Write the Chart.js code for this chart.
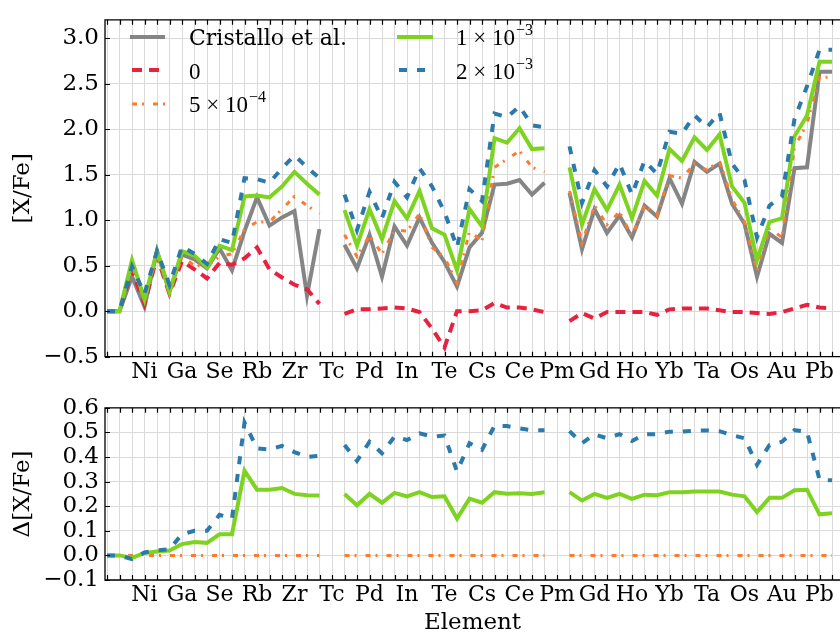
<!DOCTYPE html>
<html>
<head>
<meta charset="utf-8">
<script src="https://cdn.jsdelivr.net/npm/chart.js@4.4.0/dist/chart.umd.min.js"></script>
<style>
    html, body { margin: 0; padding: 0; background: #fff; }
    #wrap { position: relative; width: 840px; height: 637px; overflow: hidden; }
    #topChart { position: absolute; left: 0; top: 0; }
    #botChart { position: absolute; left: 0; top: 388px; }
</style>
</head>
<body>
<div id="wrap">
    <canvas id="topChart" width="840" height="395"></canvas>
    <canvas id="botChart" width="840" height="249"></canvas>
</div>
<script>
// atomic numbers Mn..Bi (Tc and Pm have no data)
const elementZ = [25, 26, 27, 28, 29, 30, 31, 32, 33, 34, 35, 36, 37, 38, 39, 40, 41, 42, 43,
    44, 45, 46, 47, 48, 49, 50, 51, 52, 53, 54, 55, 56, 57, 58, 59, 60, 61,
    62, 63, 64, 65, 66, 67, 68, 69, 70, 71, 72, 73, 74, 75, 76, 77, 78, 79, 80, 81, 82, 83];

const tickZ = [28, 31, 34, 37, 40, 43, 46, 49, 52, 55, 58, 61, 64, 67, 70, 73, 76, 79, 82];
const tickLabels = ['Ni', 'Ga', 'Se', 'Rb', 'Zr', 'Tc', 'Pd', 'In', 'Te', 'Cs', 'Ce', 'Pm',
    'Gd', 'Ho', 'Yb', 'Ta', 'Os', 'Au', 'Pb'];

const topYTicks = [-0.5, 0, 0.5, 1.0, 1.5, 2.0, 2.5, 3.0];
const botYTicks = [-0.1, 0, 0.1, 0.2, 0.3, 0.4, 0.5, 0.6];

// [X/Fe]
const cristallo = [0, 0, 0.38, 0.05, 0.66, 0.22, 0.62, 0.57, 0.47, 0.69, 0.45, 0.88, 1.25, 0.94, 1.03, 1.10, 0.17, 0.90, null,
    0.73, 0.47, 0.84, 0.38, 0.93, 0.72, 1.03, 0.75, 0.54, 0.27, 0.70, 0.86, 1.39, 1.40, 1.44, 1.28, 1.41, null,
    1.30, 0.68, 1.12, 0.86, 1.05, 0.81, 1.16, 1.04, 1.46, 1.18, 1.64, 1.53, 1.62, 1.18, 0.96, 0.38, 0.85, 0.75, 1.57, 1.58, 2.63, 2.63];

const model0 = [0, 0, 0.45, 0.08, 0.60, 0.19, 0.55, 0.46, 0.36, 0.53, 0.51, 0.58, 0.70, 0.46, 0.37, 0.29, 0.24, 0.08, null,
    -0.03, 0.02, 0.02, 0.03, 0.04, 0.03, -0.01, -0.19, -0.40, 0.00, 0.00, 0.01, 0.09, 0.04, 0.04, 0.02, -0.01, null,
    -0.11, -0.02, -0.08, -0.01, -0.01, -0.01, -0.01, -0.04, 0.02, 0.03, 0.03, 0.03, 0.01, -0.01, -0.01, -0.02, -0.03, -0.01, 0.03, 0.07, 0.04, 0.03];

const model5e4 = [0, 0, 0.50, 0.12, 0.62, 0.20, 0.60, 0.50, 0.50, 0.60, 0.63, 0.90, 0.98, 0.98, 1.12, 1.26, 1.16, 1.07, null,
    0.84, 0.60, 0.83, 0.63, 0.89, 0.88, 1.07, 0.70, 0.59, 0.31, 0.88, 0.77, 1.58, 1.67, 1.76, 1.58, 1.53, null,
    1.32, 0.75, 1.16, 0.95, 1.09, 0.82, 1.16, 1.05, 1.49, 1.46, 1.62, 1.55, 1.65, 1.23, 0.98, 0.45, 0.91, 0.81, 1.80, 2.06, 2.57, 2.57];

const model1e3 = [0, 0, 0.56, 0.13, 0.66, 0.21, 0.66, 0.61, 0.48, 0.72, 0.67, 1.26, 1.27, 1.25, 1.37, 1.53, 1.40, 1.28, null,
    1.11, 0.72, 1.12, 0.79, 1.21, 1.02, 1.32, 0.91, 0.84, 0.45, 1.12, 0.93, 1.90, 1.85, 2.01, 1.78, 1.79, null,
    1.58, 0.95, 1.34, 1.11, 1.39, 1.02, 1.43, 1.27, 1.78, 1.65, 1.91, 1.77, 1.94, 1.37, 1.19, 0.56, 0.98, 1.02, 1.92, 2.15, 2.74, 2.74];

const model2e3 = [0, 0, 0.49, 0.19, 0.66, 0.29, 0.71, 0.63, 0.52, 0.79, 0.75, 1.46, 1.45, 1.41, 1.57, 1.71, 1.58, 1.46, null,
    1.28, 0.89, 1.31, 1.02, 1.42, 1.25, 1.57, 1.37, 1.09, 0.70, 1.34, 1.21, 2.17, 2.13, 2.25, 2.04, 2.02, null,
    1.81, 1.19, 1.55, 1.37, 1.62, 1.28, 1.65, 1.51, 1.97, 1.95, 2.15, 2.02, 2.18, 1.62, 1.44, 0.81, 1.16, 1.26, 2.11, 2.47, 2.87, 2.87];

// Delta[X/Fe] relative to the 5e-4 model
const delta5e4 = [0, 0, 0, 0, 0, 0, 0, 0, 0, 0, 0, 0, 0, 0, 0, 0, 0, 0, null,
    0, 0, 0, 0, 0, 0, 0, 0, 0, 0, 0, 0, 0, 0, 0, 0, 0, null,
    0, 0, 0, 0, 0, 0, 0, 0, 0, 0, 0, 0, 0, 0, 0, 0, 0, 0, 0, 0, 0, 0];

const delta1e3 = [0, 0, -0.010, 0.010, 0.016, 0.020, 0.046, 0.054, 0.051, 0.086, 0.086, 0.344, 0.267, 0.267, 0.274, 0.250, 0.245, 0.243, null,
    0.250, 0.204, 0.250, 0.214, 0.254, 0.240, 0.257, 0.237, 0.240, 0.150, 0.231, 0.214, 0.257, 0.251, 0.253, 0.250, 0.257, null,
    0.257, 0.223, 0.250, 0.234, 0.250, 0.230, 0.247, 0.245, 0.257, 0.257, 0.260, 0.260, 0.260, 0.247, 0.240, 0.176, 0.234, 0.234, 0.265, 0.267, 0.167, 0.171];

const delta2e3 = [0, 0, -0.015, 0.012, 0.020, 0.025, 0.086, 0.100, 0.100, 0.165, 0.150, 0.540, 0.435, 0.430, 0.445, 0.420, 0.400, 0.405, null,
    0.449, 0.384, 0.462, 0.415, 0.483, 0.469, 0.496, 0.483, 0.487, 0.341, 0.456, 0.429, 0.527, 0.526, 0.516, 0.509, 0.509, null,
    0.505, 0.456, 0.492, 0.476, 0.493, 0.465, 0.492, 0.493, 0.503, 0.503, 0.507, 0.508, 0.505, 0.489, 0.476, 0.368, 0.449, 0.462, 0.509, 0.503, 0.308, 0.305];

const X_MIN = 24.84;
const X_MAX = 83.64;

const styles = {
    cristallo: { color: '#858585', width: 4, dash: [] },
    m0: { color: '#e8213f', width: 4, dash: [10, 7] },
    m5e4: { color: '#fd7b2f', width: 3, dash: [5, 5, 2, 9] },
    m1e3: { color: '#7ed320', width: 4, dash: [] },
    m2e3: { color: '#2c79ab', width: 4, dash: [8, 10] }
};

Chart.defaults.font.family = '"DejaVu Serif", serif';
Chart.defaults.font.size = 23;
Chart.defaults.color = '#000';

function toPoints(values) {
    return values.map((v, i) => ({ x: elementZ[i], y: v }));
}

function makeDataset(label, values, st, order) {
    return {
        label: label,
        data: toPoints(values),
        borderColor: st.color,
        borderWidth: st.width,
        borderDash: st.dash,
        pointRadius: 0,
        tension: 0,
        fill: false,
        spanGaps: false,
        order: order
    };
}

function xLabel(v) {
    const i = tickZ.indexOf(Math.round(v));
    return (i >= 0 && Math.abs(v - tickZ[i]) < 1e-6) ? tickLabels[i] : '';
}

function yLabel(v) {
    const r = Math.round(v * 10) / 10;
    return (r < 0 ? '\u2212' : '') + Math.abs(r).toFixed(1);
}

// box + inward tick marks, like the matplotlib frame
const framePlugin = {
    id: 'frame',
    afterDatasetsDraw(chart) {
        const { ctx, chartArea: a, scales } = chart;
        ctx.save();
        ctx.strokeStyle = '#000';
        ctx.lineWidth = 1.3;
        ctx.beginPath();
        ctx.moveTo(a.right + 2, a.top);
        ctx.lineTo(a.left, a.top);
        ctx.lineTo(a.left, a.bottom);
        ctx.lineTo(a.right + 2, a.bottom);
        ctx.stroke();

        ctx.lineWidth = 1.2;
        ctx.beginPath();
        scales.x.ticks.forEach(t => {
            const px = Math.round(scales.x.getPixelForValue(t.value)) + 0.5;
            ctx.moveTo(px, a.top);
            ctx.lineTo(px, a.top + 5);
            ctx.moveTo(px, a.bottom);
            ctx.lineTo(px, a.bottom - 5);
        });
        scales.y.ticks.forEach(t => {
            const py = Math.round(scales.y.getPixelForValue(t.value)) + 0.5;
            ctx.moveTo(a.left, py);
            ctx.lineTo(a.left + 5, py);
        });
        ctx.stroke();
        ctx.restore();
    }
};

function drawSample(ctx, x1, x2, y, st) {
    ctx.save();
    ctx.strokeStyle = st.color;
    ctx.lineWidth = st.width;
    ctx.setLineDash(st.dash);
    ctx.beginPath();
    ctx.moveTo(x1, y);
    ctx.lineTo(x2, y);
    ctx.stroke();
    ctx.restore();
}

function drawPow(ctx, x, y, mant, exp) {
    ctx.font = '23px "Liberation Serif", serif';
    const base = mant + ' \u00d7 10';
    ctx.fillText(base, x, y);
    const w = ctx.measureText(base).width;
    ctx.font = '16px "Liberation Serif", serif';
    ctx.fillText('\u2212' + exp, x + w + 1, y - 10);
}

const legendPlugin = {
    id: 'customLegend',
    afterDraw(chart) {
        const ctx = chart.ctx;
        ctx.save();
        ctx.fillStyle = '#000';
        ctx.textBaseline = 'alphabetic';

        drawSample(ctx, 130, 165, 37, styles.cristallo);
        drawSample(ctx, 132, 165, 70, styles.m0);
        drawSample(ctx, 132, 165, 104, styles.m5e4);
        drawSample(ctx, 397, 433, 37, styles.m1e3);
        drawSample(ctx, 399, 433, 70, styles.m2e3);

        ctx.font = '22px "DejaVu Serif", serif';
        ctx.fillText('Cristallo et al.', 189, 45);
        ctx.font = '23px "Liberation Serif", serif';
        ctx.fillText('0', 189, 79);
        drawPow(ctx, 189, 112, '5', '4');
        drawPow(ctx, 456, 45, '1', '3');
        drawPow(ctx, 456, 79, '2', '3');
        ctx.restore();
    }
};

function xScale(height, showTitle) {
    return {
        type: 'linear',
        min: X_MIN,
        max: X_MAX,
        afterBuildTicks: s => { s.ticks = elementZ.map(v => ({ value: v })); },
        afterFit: s => { s.height = height; },
        grid: { color: '#dadada', lineWidth: 1, drawTicks: false },
        border: { display: false },
        ticks: { autoSkip: false, maxRotation: 0, minRotation: 0, padding: 2, font: { size: 22 }, callback: v => xLabel(v) },
        title: { display: showTitle, text: 'Element', padding: { top: 0, bottom: 0 } }
    };
}

function yScale(min, max, ticks, title) {
    return {
        min: min,
        max: max,
        afterBuildTicks: s => { s.ticks = ticks.map(v => ({ value: v })); },
        afterFit: s => { s.width = 105; },
        grid: { color: '#dadada', lineWidth: 1, drawTicks: false },
        border: { display: false },
        ticks: { autoSkip: false, padding: 6, callback: v => yLabel(v) },
        title: { display: true, text: title, padding: { top: 9, bottom: 0 } }
    };
}

new Chart(document.getElementById('topChart'), {
    type: 'line',
    data: {
        datasets: [
            makeDataset('Cristallo et al.', cristallo, styles.cristallo, 5),
            makeDataset('0', model0, styles.m0, 4),
            makeDataset('5e-4', model5e4, styles.m5e4, 3),
            makeDataset('1e-3', model1e3, styles.m1e3, 2),
            makeDataset('2e-3', model2e3, styles.m2e3, 1)
        ]
    },
    options: {
        responsive: false,
        animation: false,
        layout: { padding: { top: 7, right: 0, bottom: 0, left: 0 } },
        plugins: { legend: { display: false }, tooltip: { enabled: false } },
        scales: {
            x: xScale(38.3, false),
            y: yScale(-0.5, 3.2, topYTicks, '[X/Fe]')
        }
    },
    plugins: [framePlugin, legendPlugin]
});

new Chart(document.getElementById('botChart'), {
    type: 'line',
    data: {
        datasets: [
            makeDataset('5e-4', delta5e4, styles.m5e4, 3),
            makeDataset('1e-3', delta1e3, styles.m1e3, 2),
            makeDataset('2e-3', delta2e3, styles.m2e3, 1)
        ]
    },
    options: {
        responsive: false,
        animation: false,
        layout: { padding: { top: 17.5, right: 0, bottom: 0, left: 0 } },
        plugins: { legend: { display: false }, tooltip: { enabled: false } },
        scales: {
            x: xScale(57, true),
            y: yScale(-0.1, 0.6, botYTicks, '\u0394[X/Fe]')
        }
    },
    plugins: [framePlugin]
});
</script>
</body>
</html>
